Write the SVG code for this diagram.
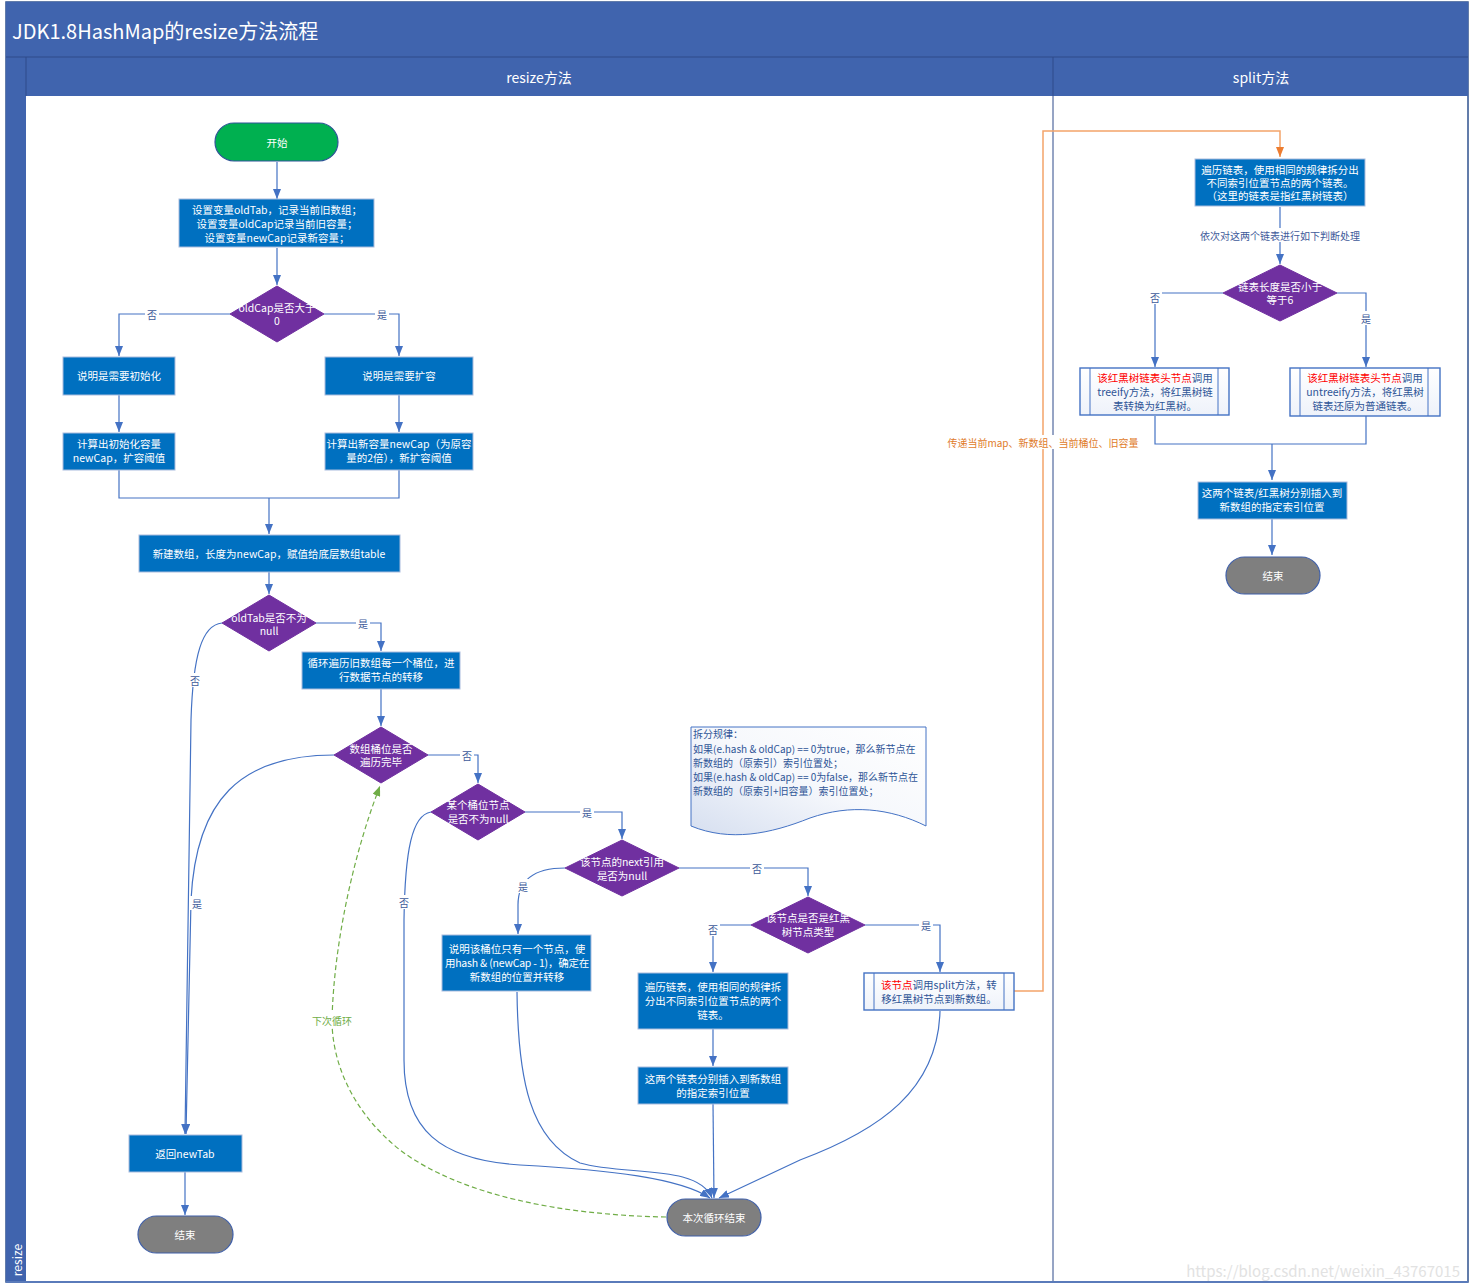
<svg xmlns="http://www.w3.org/2000/svg" width="1470" height="1288" viewBox="0 0 1470 1288">
<style>
text{font-family:"Noto Sans CJK SC","Liberation Sans",sans-serif;}
.t{font-size:10.5px;fill:#ffffff;text-anchor:middle;dominant-baseline:central;}
.tb{font-size:10.5px;fill:#2F5597;text-anchor:middle;dominant-baseline:central;}
.red{fill:#FF0000;}
.lbl{font-size:10px;fill:#3E5A9A;text-anchor:middle;dominant-baseline:central;}
.box{fill:#0070C0;stroke:#A9BCDD;stroke-width:1;}
.dia{fill:#7030A0;stroke:#7030A0;stroke-width:1;}
.pillg{fill:#7F7F7F;stroke:#3F5FA8;stroke-width:1.2;}
.sub{fill:url(#subg);stroke:#4472C4;stroke-width:1.4;}
.subl{stroke:#4472C4;stroke-width:1;fill:none;}
.c{fill:none;stroke:#4472C4;stroke-width:1.2;}
.lb{fill:#ffffff;}
</style>
<defs>
<marker id="a" markerUnits="userSpaceOnUse" markerWidth="10" markerHeight="8" refX="10" refY="4" orient="auto"><path d="M0,0 L10,4 L0,8 z" fill="#4472C4"/></marker>
<marker id="ag" markerUnits="userSpaceOnUse" markerWidth="10" markerHeight="8" refX="10" refY="4" orient="auto"><path d="M0,0 L10,4 L0,8 z" fill="#70AD47"/></marker>
<marker id="ao" markerUnits="userSpaceOnUse" markerWidth="10" markerHeight="8" refX="10" refY="4" orient="auto"><path d="M0,0 L10,4 L0,8 z" fill="#ED7D31"/></marker>
<linearGradient id="subg" x1="0" y1="0" x2="0" y2="1"><stop offset="0" stop-color="#ffffff"/><stop offset="1" stop-color="#EEF2FA"/></linearGradient>
<linearGradient id="noteg" x1="1" y1="0" x2="0" y2="1"><stop offset="0" stop-color="#ffffff"/><stop offset="0.5" stop-color="#F6F8FC"/><stop offset="1" stop-color="#D6DFF0"/></linearGradient>
</defs>

<g id="frame">
<rect x="6" y="2" width="1462" height="1280" fill="#ffffff" stroke="#2F528F" stroke-width="1.5"/>
<rect x="6" y="2" width="1462" height="55" fill="#4064AE"/>
<rect x="6" y="57" width="20" height="1225" fill="#4064AE"/>
<rect x="26" y="57" width="1442" height="39" fill="#4064AE"/>
<line x1="6" y1="57" x2="1468" y2="57" stroke="#2F4A8A" stroke-width="1"/>
<line x1="26" y1="57" x2="26" y2="96" stroke="#2F4A8A" stroke-width="1"/>
<line x1="1053" y1="57" x2="1053" y2="1282" stroke="#2F4A8A" stroke-width="1"/>
<line x1="6" y1="1282" x2="1468" y2="1282" stroke="#5A7BBA" stroke-width="2"/>
<text x="12" y="30" font-size="20" fill="#ffffff" dominant-baseline="central">JDK1.8HashMap的resize方法流程</text>
<text x="539" y="77" font-size="14" fill="#ffffff" text-anchor="middle" dominant-baseline="central">resize方法</text>
<text x="1261" y="77" font-size="14" fill="#ffffff" text-anchor="middle" dominant-baseline="central">split方法</text>
<text transform="translate(16,1260) rotate(-90)" font-size="12" fill="#ffffff" text-anchor="middle" dominant-baseline="central">resize</text>
</g>

<g id="connectors">
<path class="c" d="M277,162 V199" marker-end="url(#a)"/>
<path class="c" d="M277,248 V285" marker-end="url(#a)"/>
<path class="c" d="M230,314 H119 V356" marker-end="url(#a)"/>
<path class="c" d="M324,314 H399 V356" marker-end="url(#a)"/>
<path class="c" d="M119,395 V432" marker-end="url(#a)"/>
<path class="c" d="M399,395 V432" marker-end="url(#a)"/>
<path class="c" d="M119,470 V498 H399 V470"/>
<path class="c" d="M269,498 V534" stroke-width="2" marker-end="url(#a)"/>
<path class="c" d="M269,572 V594" marker-end="url(#a)"/>
<path class="c" d="M316,623 H381 V651" marker-end="url(#a)"/>
<path class="c" d="M381,689 V726" marker-end="url(#a)"/>
<path class="c" d="M428,755 H478 V783" marker-end="url(#a)"/>
<path class="c" d="M525,812 H622 V839" marker-end="url(#a)"/>
<path class="c" d="M679,868 H808 V896" marker-end="url(#a)"/>
<path class="c" d="M565,868 C535,868 518,880 518,905 V934" marker-end="url(#a)"/>
<path class="c" d="M751,925 H713 V972" marker-end="url(#a)"/>
<path class="c" d="M865,925 H940 V972" marker-end="url(#a)"/>
<path class="c" d="M713,1029 V1066" marker-end="url(#a)"/>
<path class="c" d="M713,1104 L714,1198" marker-end="url(#a)"/>
<path class="c" d="M222,623 C202,625 193,655 191,720 L185,1134" marker-end="url(#a)"/>
<path class="c" d="M334,755 C240,755 196,800 191,900 L186,1134" marker-end="url(#a)"/>
<path class="c" d="M185,1172 V1215" marker-end="url(#a)"/>
<path class="c" d="M431,812 C412,815 405,850 404,920 L404,1060 C404,1130 440,1160 520,1165 C610,1170 680,1178 710,1198" marker-end="url(#a)"/>
<path class="c" d="M517,992 C518,1080 530,1140 580,1163 C625,1176 698,1164 712,1198" marker-end="url(#a)"/>
<path class="c" d="M940,1011 C938,1090 880,1130 800,1160 L719,1198" marker-end="url(#a)"/>
<path d="M666,1217 C560,1215 460,1195 400,1150 C350,1110 332,1060 332,1020 C334,940 355,850 380,786" fill="none" stroke="#70AD47" stroke-width="1.2" stroke-dasharray="5,3" marker-end="url(#ag)"/>
<path d="M1014,991 H1043 V131 H1280 V157" fill="none" stroke="#F4A46A" stroke-width="1.5" marker-end="url(#ao)"/>
<path class="c" d="M1280,207 V264" marker-end="url(#a)"/>
<path class="c" d="M1223,293 H1155 V367" marker-end="url(#a)"/>
<path class="c" d="M1337,293 H1366 V367" marker-end="url(#a)"/>
<path class="c" d="M1155,416 V444 H1366 V416"/>
<path class="c" d="M1272,444 V480" stroke-width="2" marker-end="url(#a)"/>
<path class="c" d="M1272,519 V555" marker-end="url(#a)"/>

<rect class="lb" x="145" y="307" width="14" height="14"/><text class="lbl" x="152" y="314">否</text>
<rect class="lb" x="375" y="307" width="14" height="14"/><text class="lbl" x="382" y="314">是</text>
<rect class="lb" x="356" y="616" width="14" height="14"/><text class="lbl" x="363" y="623">是</text>
<rect class="lb" x="188" y="673" width="14" height="14"/><text class="lbl" x="195" y="680">否</text>
<rect class="lb" x="460" y="748" width="14" height="14"/><text class="lbl" x="467" y="755">否</text>
<rect class="lb" x="190" y="896" width="14" height="14"/><text class="lbl" x="197" y="903">是</text>
<rect class="lb" x="580" y="805" width="14" height="14"/><text class="lbl" x="587" y="812">是</text>
<rect class="lb" x="397" y="895" width="14" height="14"/><text class="lbl" x="404" y="902">否</text>
<rect class="lb" x="516" y="879" width="14" height="14"/><text class="lbl" x="523" y="886">是</text>
<rect class="lb" x="750" y="861" width="14" height="14"/><text class="lbl" x="757" y="868">否</text>
<rect class="lb" x="706" y="922" width="14" height="14"/><text class="lbl" x="713" y="929">否</text>
<rect class="lb" x="919" y="918" width="14" height="14"/><text class="lbl" x="926" y="925">是</text>
<rect class="lb" x="1148" y="290" width="14" height="14"/><text class="lbl" x="1155" y="297">否</text>
<rect class="lb" x="1359" y="311" width="14" height="14"/><text class="lbl" x="1366" y="318">是</text>
<rect class="lb" x="310" y="1013" width="44" height="14"/><text x="332" y="1020" font-size="10" fill="#70AD47" text-anchor="middle" dominant-baseline="central">下次循环</text>
<rect class="lb" x="1194" y="228" width="172" height="14"/><text class="lbl" x="1280" y="235">依次对这两个链表进行如下判断处理</text>
<rect class="lb" x="942" y="435" width="202" height="14"/><text x="1043" y="442" font-size="10" fill="#E07B2A" text-anchor="middle" dominant-baseline="central">传递当前map、新数组、当前桶位、旧容量</text>
</g>

<g id="start"><rect x="215" y="123" width="123" height="38" rx="19" fill="#00B050" stroke="#2F5597" stroke-width="1.2"/><text class="t" x="277" y="142">开始</text></g>
<g id="initVars"><rect class="box" x="179" y="199" width="195" height="48"/><text class="t" x="277" y="209">设置变量oldTab，记录当前旧数组；</text><text class="t" x="277" y="223">设置变量oldCap记录当前旧容量；</text><text class="t" x="277" y="237">设置变量newCap记录新容量；</text></g>
<g id="d1"><polygon class="dia" points="277,286 324,314 277,342 230,314"/><text class="t" x="277" y="307">oldCap是否大于</text><text class="t" x="277" y="320">0</text></g>
<g id="needInit"><rect class="box" x="63" y="357" width="112" height="38"/><text class="t" x="119" y="375">说明是需要初始化</text></g>
<g id="needExpand"><rect class="box" x="325" y="357" width="148" height="38"/><text class="t" x="399" y="375">说明是需要扩容</text></g>
<g id="calcInit"><rect class="box" x="63" y="433" width="112" height="37"/><text class="t" x="119" y="443">计算出初始化容量</text><text class="t" x="119" y="457">newCap，扩容阈值</text></g>
<g id="calcNew"><rect class="box" x="325" y="433" width="148" height="37"/><text class="t" x="399" y="443">计算出新容量newCap（为原容</text><text class="t" x="399" y="457">量的2倍），新扩容阈值</text></g>
<g id="newArr"><rect class="box" x="139" y="535" width="261" height="37"/><text class="t" x="269" y="553">新建数组，长度为newCap，赋值给底层数组table</text></g>
<g id="d2"><polygon class="dia" points="269,595 316,623 269,651 222,623"/><text class="t" x="269" y="617">oldTab是否不为</text><text class="t" x="269" y="630">null</text></g>
<g id="loop"><rect class="box" x="302" y="652" width="158" height="37"/><text class="t" x="381" y="662">循环遍历旧数组每一个桶位，进</text><text class="t" x="381" y="676">行数据节点的转移</text></g>
<g id="d3"><polygon class="dia" points="381,727 428,755 381,783 334,755"/><text class="t" x="381" y="748">数组桶位是否</text><text class="t" x="381" y="761">遍历完毕</text></g>
<g id="d4"><polygon class="dia" points="478,784 525,812 478,840 431,812"/><text class="t" x="478" y="804">某个桶位节点</text><text class="t" x="478" y="818">是否不为null</text></g>
<g id="d5"><polygon class="dia" points="622,840 679,868 622,896 565,868"/><text class="t" x="622" y="861">该节点的next引用</text><text class="t" x="622" y="875">是否为null</text></g>
<g id="d6"><polygon class="dia" points="808,897 865,925 808,953 751,925"/><text class="t" x="808" y="917">该节点是否是红黑</text><text class="t" x="808" y="931">树节点类型</text></g>
<g id="single"><rect class="box" x="442" y="935" width="149" height="56"/><text class="t" x="517" y="948">说明该桶位只有一个节点，使</text><text class="t" x="517" y="962" font-size="9.5" letter-spacing="-0.2">用hash &amp; (newCap - 1)，确定在</text><text class="t" x="517" y="976">新数组的位置并转移</text></g>
<g id="splitList"><rect class="box" x="638" y="973" width="150" height="56"/><text class="t" x="713" y="986">遍历链表，使用相同的规律拆</text><text class="t" x="713" y="1000">分出不同索引位置节点的两个</text><text class="t" x="713" y="1014">链表。</text></g>
<g id="insertList"><rect class="box" x="638" y="1067" width="150" height="37"/><text class="t" x="713" y="1078">这两个链表分别插入到新数组</text><text class="t" x="713" y="1092">的指定索引位置</text></g>
<g id="callSplit"><rect class="sub" x="864" y="973" width="150" height="37"/><line class="subl" x1="874" y1="973" x2="874" y2="1010"/><line class="subl" x1="1004" y1="973" x2="1004" y2="1010"/><text class="tb" x="939" y="984"><tspan class="red">该节点</tspan>调用split方法，转</text><text class="tb" x="939" y="998">移红黑树节点到新数组。</text></g>
<g id="loopEnd"><rect class="pillg" x="667" y="1199" width="94" height="37" rx="18.5"/><text class="t" x="714" y="1217">本次循环结束</text></g>
<g id="returnNewTab"><rect class="box" x="129" y="1135" width="113" height="37"/><text class="t" x="185" y="1153">返回newTab</text></g>
<g id="end1"><rect class="pillg" x="138" y="1216" width="95" height="37" rx="18.5"/><text class="t" x="185" y="1234">结束</text></g>
<g id="note"><path d="M691,727 H926 V826 C890,808 850,804 810,818 C770,834 730,842 691,826 Z" fill="url(#noteg)" stroke="#4472C4" stroke-width="1"/>
<text font-size="10" fill="#2F5597"><tspan x="693" y="738">拆分规律：</tspan><tspan x="693" y="753">如果(e.hash &amp; oldCap) == 0为true，那么新节点在</tspan><tspan x="693" y="767">新数组的（原索引）索引位置处；</tspan><tspan x="693" y="781">如果(e.hash &amp; oldCap) == 0为false，那么新节点在</tspan><tspan x="693" y="795">新数组的（原索引+旧容量）索引位置处；</tspan></text></g>

<g id="splitTraverse"><rect class="box" x="1195" y="159" width="170" height="47"/><text class="t" x="1280" y="169">遍历链表，使用相同的规律拆分出</text><text class="t" x="1280" y="182">不同索引位置节点的两个链表。</text><text class="t" x="1280" y="195">（这里的链表是指红黑树链表）</text></g>
<g id="d7"><polygon class="dia" points="1280,265 1337,293 1280,321 1223,293"/><text class="t" x="1280" y="286">链表长度是否小于</text><text class="t" x="1280" y="299">等于6</text></g>
<g id="treeify"><rect class="sub" x="1080" y="368" width="149" height="47"/><line class="subl" x1="1090" y1="368" x2="1090" y2="415"/><line class="subl" x1="1218" y1="368" x2="1218" y2="415"/><text class="tb" x="1155" y="377"><tspan class="red">该红黑树链表头节点</tspan>调用</text><text class="tb" x="1155" y="391">treeify方法，将红黑树链</text><text class="tb" x="1155" y="405">表转换为红黑树。</text></g>
<g id="untreeify"><rect class="sub" x="1290" y="368" width="150" height="48"/><line class="subl" x1="1300" y1="368" x2="1300" y2="416"/><line class="subl" x1="1428" y1="368" x2="1428" y2="416"/><text class="tb" x="1365" y="377"><tspan class="red">该红黑树链表头节点</tspan>调用</text><text class="tb" x="1365" y="391">untreeify方法，将红黑树</text><text class="tb" x="1365" y="405">链表还原为普通链表。</text></g>
<g id="insertSplit"><rect class="box" x="1198" y="482" width="149" height="37"/><text class="t" x="1272" y="492">这两个链表/红黑树分别插入到</text><text class="t" x="1272" y="506">新数组的指定索引位置</text></g>
<g id="end2"><rect class="pillg" x="1226" y="557" width="94" height="37" rx="18.5"/><text class="t" x="1273" y="575">结束</text></g>
<text x="1460" y="1270" font-family="Liberation Sans, sans-serif" font-size="15" fill="#E2E2E2" text-anchor="end" dominant-baseline="central">https://blog.csdn.net/weixin_43767015</text>
</svg>
